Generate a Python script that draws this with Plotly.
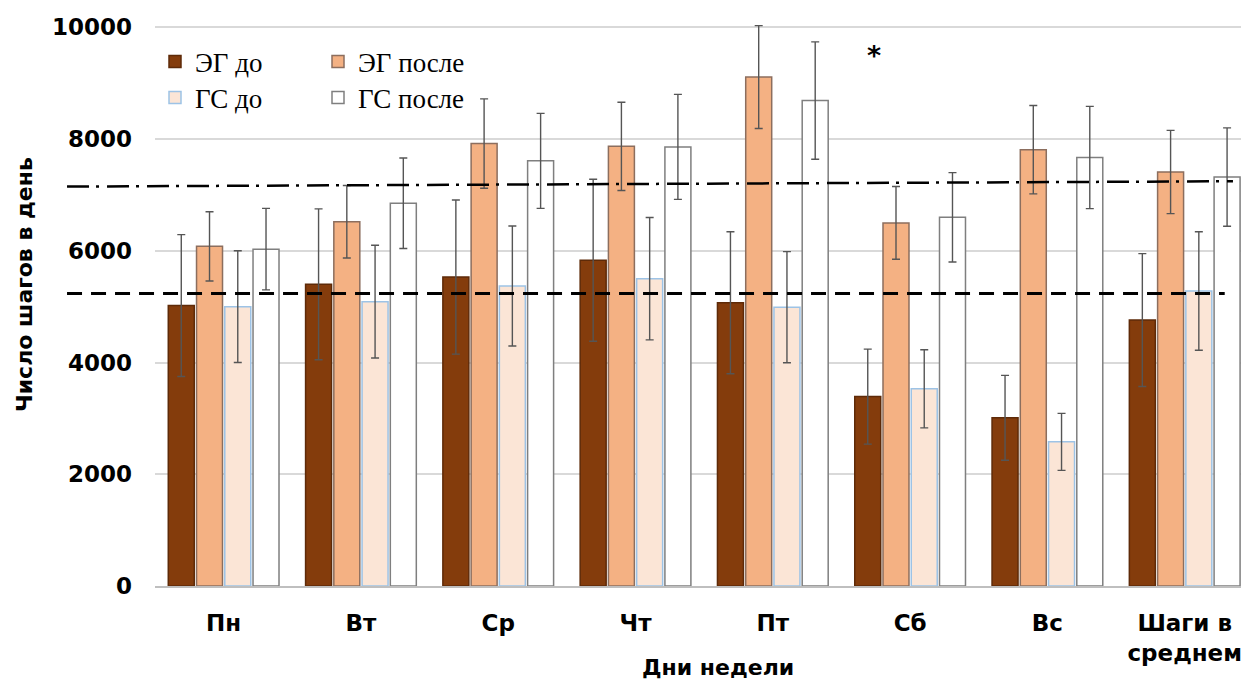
import plotly.graph_objects as go

categories = ["Пн", "Вт", "Ср", "Чт", "Пт", "Сб", "Вс", "Шаги в<br>среднем"]

eg_before = [5020, 5400, 5530, 5830, 5070, 3390, 3010, 4760]
eg_before_err = [1270, 1350, 1380, 1450, 1270, 850, 760, 1190]
eg_after = [6080, 6520, 7920, 7870, 9110, 6500, 7810, 7410]
eg_after_err = [620, 650, 800, 790, 920, 650, 790, 745]
gs_before = [5000, 5090, 5370, 5500, 4990, 3530, 2580, 5280]
gs_before_err = [1000, 1010, 1075, 1095, 995, 700, 510, 1060]
gs_after = [6030, 6850, 7610, 7860, 8690, 6600, 7670, 7320]
gs_after_err = [730, 810, 850, 940, 1050, 800, 915, 880]

series_names = ["ЭГ до", "ЭГ после", "ГС до", "ГС после"]
norm_dashed = [5236, 5236]
norm_dashdot = [7150, 7245]
y_ticks = [0, 2000, 4000, 6000, 8000, 10000]
star_day = "Пт"
star_value = 9500

fills = ["#843C0C", "#F4B183", "#FBE5D6", "#FFFFFF"]
lines = ["#5E2A08", "#8C6E5E", "#9DC3E6", "#7F7F7F"]

fig = go.Figure()
data = [(eg_before, eg_before_err), (eg_after, eg_after_err),
        (gs_before, gs_before_err), (gs_after, gs_after_err)]
for i, (vals, errs) in enumerate(data):
    fig.add_trace(go.Bar(
        x=categories, y=vals, name=series_names[i],
        marker=dict(color=fills[i], line=dict(color=lines[i], width=1.5)),
        error_y=dict(type="data", array=errs, visible=True,
                     color="#555555", thickness=1.4, width=4),
        legend="legend" if i < 2 else "legend2",
    ))

# norm lines
fig.add_shape(type="line", xref="paper", yref="y", x0=-0.081, x1=0.985,
              y0=norm_dashed[0], y1=norm_dashed[1],
              line=dict(color="black", width=3, dash="15px,9px"), layer="above")
fig.add_shape(type="line", xref="paper", yref="y", x0=-0.081, x1=0.9926,
              y0=norm_dashdot[0], y1=norm_dashdot[1],
              line=dict(color="black", width=2.5, dash="22px,7px,3px,8px"), layer="above")

fig.add_annotation(x=star_day, y=star_value, xref="x", yref="y", text="<b>*</b>",
                   showarrow=False, xshift=101,
                   font=dict(family="DejaVu Sans", size=27, color="black"))

fig.add_annotation(x=0.518, y=-0.141, xref="paper", yref="paper", text="<b>Дни недели</b>",
                   showarrow=False, xanchor="center", yanchor="middle",
                   font=dict(family="DejaVu Sans", size=22, color="black"))
fig.add_annotation(x=-0.1206, y=0.518, xref="paper", yref="paper",
                   text="<b>Число шагов в день</b>", textangle=-90,
                   showarrow=False, xanchor="center", yanchor="middle",
                   font=dict(family="DejaVu Sans", size=22, color="black"))

legend_common = dict(orientation="h", xref="paper", yref="paper", xanchor="left",
                     yanchor="middle", bgcolor="rgba(0,0,0,0)",
                     font=dict(family="Liberation Serif", size=27, color="black"),
                     entrywidth=118, entrywidthmode="pixels", traceorder="normal")
fig.update_layout(
    width=1241, height=682,
    margin=dict(l=155, r=0, t=5, b=96),
    paper_bgcolor="white", plot_bgcolor="white",
    barmode="group", bargap=0.177, bargroupgap=0.08,
    legend=dict(x=0.0, y=(586 - 62) / 581, **legend_common),
    legend2=dict(x=0.0, y=(586 - 98) / 581, **legend_common),
    xaxis=dict(range=[-0.5, 7.41], showline=True, linecolor="#BFBFBF", linewidth=2,
               ticks="", showgrid=False,
               tickfont=dict(family="DejaVu Sans", size=23, color="black"),
               ticklabelstandoff=15),
    yaxis=dict(range=[0, 10400], tickvals=y_ticks, ticktext=[f"<b>{v}</b>" for v in y_ticks],
               showgrid=True, gridcolor="#D9D9D9", gridwidth=1.5, zeroline=False,
               showline=False, ticks="",
               tickfont=dict(family="DejaVu Sans", size=23, color="black"),
               ticklabelstandoff=22),
)
fig.update_xaxes(tickvals=categories,
                 ticktext=["<b>" + c.replace("<br>", "</b><br><b>") + "</b>" for c in categories])

fig.write_html("out.html", config={"displayModeBar": False},
               post_script="document.body.style.margin='0';document.body.style.overflow='hidden';")
